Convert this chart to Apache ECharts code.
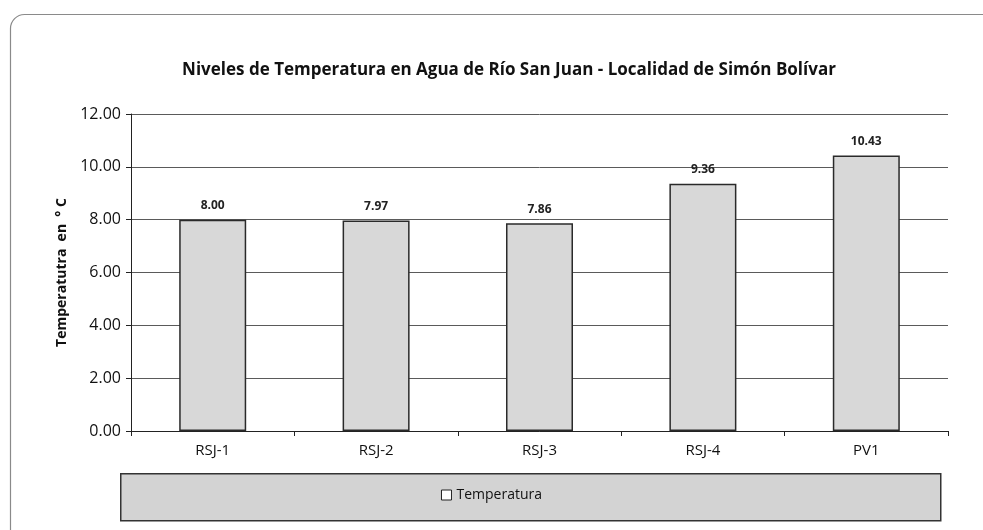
<!DOCTYPE html>
<html>
<head>
<meta charset="utf-8">
<script src="https://cdn.jsdelivr.net/npm/echarts@6/dist/echarts.min.js"></script>
<style>
  html, body { margin: 0; padding: 0; background: #fff; }
  #chart { width: 983px; height: 530px; }
</style>
</head>
<body>
<div id="chart"></div>
<script>
var estaciones = ['RSJ-1', 'RSJ-2', 'RSJ-3', 'RSJ-4', 'PV1'];
var temperatura = [8.00, 7.97, 7.86, 9.36, 10.43];

var myChart = echarts.init(document.getElementById('chart'));
var fuente = '"Open Sans", "Noto Sans", sans-serif';

var option = {
    animation: false,
    backgroundColor: '#fff',
    title: {
        text: 'Niveles de Temperatura en Agua de Río San Juan - Localidad de Simón Bolívar',
        left: 504,
        textAlign: 'center',
        top: 57,
        textStyle: { fontFamily: fuente, fontSize: 17, fontWeight: 'bold', color: '#111' }
    },
    graphic: [
        // marco redondeado del grafico
        { type: 'rect', left: 8, top: 12, shape: { width: 1000, height: 530, r: 14 },
          style: { fill: 'none', stroke: '#8a8a8a', lineWidth: 1.2 }, z: -1 },
        // caja de la leyenda
        { type: 'rect', left: 120, top: 473, shape: { width: 820, height: 47 },
          style: { fill: '#d3d3d3', stroke: '#333', lineWidth: 1.5 }, z: -1 }
    ],
    legend: {
        bottom: 23,
        left: 'center',
        icon: 'rect',
        itemWidth: 10,
        itemHeight: 10,
        itemGap: 4,
        textStyle: { fontFamily: fuente, fontSize: 14, color: '#111' },
        data: [{ name: 'Temperatura', itemStyle: { color: '#fff', borderColor: '#222', borderWidth: 1 } }]
    },
    grid: { left: 131, right: 35, top: 114, bottom: 99 },
    xAxis: {
        type: 'category',
        data: estaciones,
        axisLine: { lineStyle: { color: '#222', width: 1 } },
        axisTick: { show: true, length: 5, lineStyle: { color: '#222' } },
        axisLabel: { fontFamily: fuente, fontSize: 15, color: '#111', margin: 12 }
    },
    yAxis: {
        type: 'value',
        min: 0,
        max: 12,
        interval: 2,
        name: 'Temperatutra  en  ° C',
        nameLocation: 'middle',
        nameGap: 62,
        nameTextStyle: { fontFamily: fuente, fontSize: 14, fontWeight: 'bold', color: '#111' },
        axisLine: { show: true, lineStyle: { color: '#222', width: 1 } },
        axisTick: { show: true, length: 5, lineStyle: { color: '#222' } },
        axisLabel: {
            fontFamily: fuente, fontSize: 16, color: '#111', margin: 10,
            formatter: function (v) { return v.toFixed(2); }
        },
        splitLine: { lineStyle: { color: '#5a5a5a', width: 1 } }
    },
    series: [{
        name: 'Temperatura',
        type: 'bar',
        data: temperatura,
        barWidth: '41%',
        itemStyle: { color: '#d8d8d8', borderColor: '#2a2a2a', borderWidth: 1.5 },
        label: {
            show: true,
            position: 'top',
            distance: 8,
            fontFamily: fuente,
            fontSize: 12,
            fontWeight: 'bold',
            color: '#222',
            formatter: function (p) { return p.value.toFixed(2); }
        }
    }, {
        // borde superior y derecho del area de trazado
        type: 'line',
        data: [],
        markLine: {
            silent: true,
            symbol: 'none',
            label: { show: false },
            lineStyle: { color: '#222', width: 1, type: 'solid' },
            data: [[{ coord: [-0.5, 12] }, { coord: [4.5, 12] }],
                   [{ coord: [4.5, 0] }, { coord: [4.5, 12] }]]
        }
    }]
};

myChart.setOption(option);
</script>
</body>
</html>
